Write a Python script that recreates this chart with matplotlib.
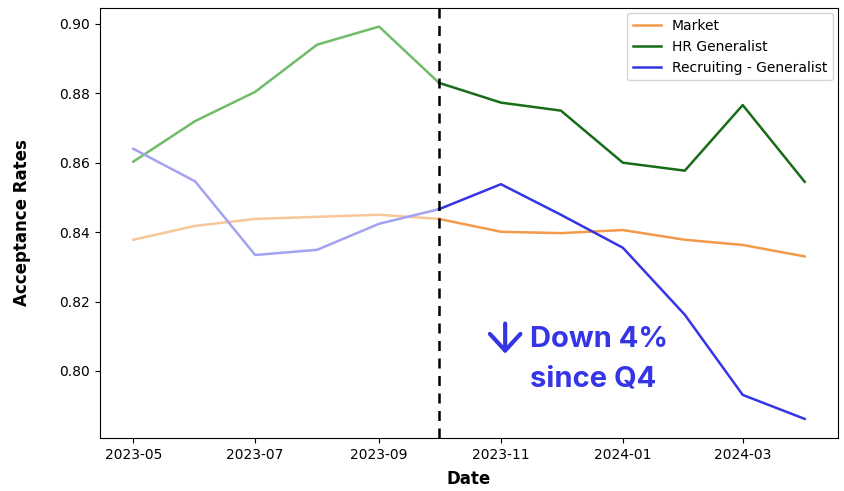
import matplotlib.pyplot as plt
import pandas as pd

dates = pd.date_range("2023-05-01", "2024-04-01", freq="MS")
market = [0.8378, 0.8418, 0.8438, 0.8444, 0.8450, 0.8438,
          0.8401, 0.8397, 0.8406, 0.8378, 0.8363, 0.8330]
hr_generalist = [0.8603, 0.8720, 0.8804, 0.8940, 0.8992, 0.8830,
                 0.8773, 0.8750, 0.8600, 0.8577, 0.8766, 0.8545]
recruiting = [0.8640, 0.8546, 0.8334, 0.8349, 0.8424, 0.8466,
              0.8538, 0.8450, 0.8355, 0.8162, 0.7931, 0.7862]

cutoff = pd.Timestamp("2023-10-01")
annotation = ["Down 4%", "since Q4"]
tick_dates = pd.date_range("2023-05-01", "2024-03-01", freq="2MS")

series = [
    ("Market", market, "#f39a4b", "#f7c799"),
    ("HR Generalist", hr_generalist, "#176d17", "#6fbd69"),
    ("Recruiting - Generalist", recruiting, "#3535e6", "#a3a3f2"),
]

fig, ax = plt.subplots(figsize=(8.45, 4.91), dpi=100)
fig.subplots_adjust(left=0.118, right=0.992, top=0.984, bottom=0.108)

pre = dates <= cutoff
post = dates >= cutoff

for name, vals, col, faded in series:
    v = pd.Series(vals, index=dates)
    ax.plot(dates[pre], v[pre], color=faded, linewidth=1.8)
    ax.plot(dates[post], v[post], color=col, linewidth=1.8, label=name)

ax.axvline(cutoff, color="black", linestyle=(0, (4, 3)), linewidth=1.8)

ax.set_ylim(0.7807, 0.9046)
ax.set_yticks([0.80, 0.82, 0.84, 0.86, 0.88, 0.90])
ax.set_xticks(tick_dates)
ax.set_xticklabels([d.strftime("%Y-%m") for d in tick_dates])
ax.tick_params(labelsize=10)

ax.set_xlabel("Date", fontsize=12, fontweight="bold", labelpad=6)
ax.set_ylabel("Acceptance Rates", fontsize=12, fontweight="bold", labelpad=20)

ax.legend(loc="upper right", fontsize=10, borderaxespad=0.4)

# callout: arrow + text
blue = "#3535e6"
ax.annotate("", xy=(0.549, 0.196), xytext=(0.549, 0.266),
            xycoords="axes fraction", textcoords="axes fraction",
            arrowprops=dict(arrowstyle="->, head_length=0.6, head_width=0.55",
                            color=blue, lw=3, mutation_scale=20,
                            capstyle="round", joinstyle="round",
                            shrinkA=0, shrinkB=0))
ax.text(0.583, 0.228, annotation[0], transform=ax.transAxes, fontsize=21,
        color=blue, fontweight="bold", ha="left", va="center",
        family=["Inter", "DejaVu Sans"])
ax.text(0.583, 0.138, annotation[1], transform=ax.transAxes, fontsize=21,
        color=blue, fontweight="bold", ha="left", va="center",
        family=["Inter", "DejaVu Sans"])

fig.savefig("out.png", dpi=100)
